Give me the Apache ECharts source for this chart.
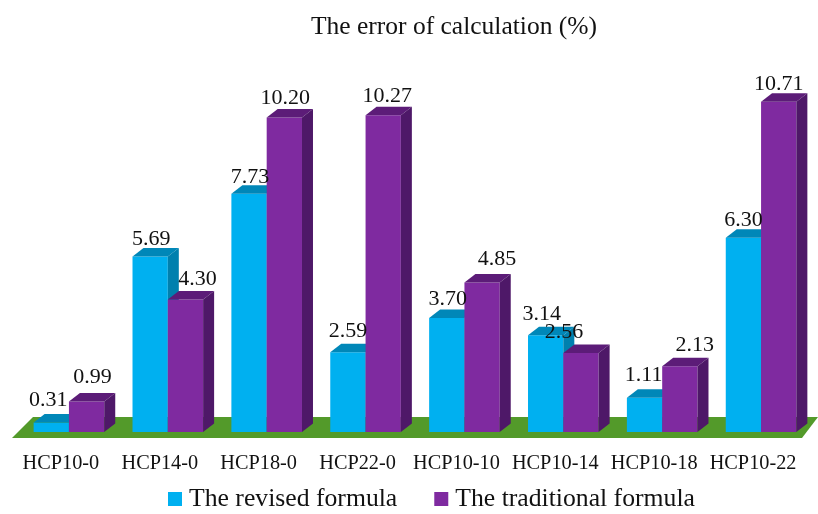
<!DOCTYPE html>
<html>
<head>
<meta charset="utf-8">
<style>
    html, body {margin: 0; padding: 0; background: #fff;}
    #chart {width: 818px; height: 514px;}
</style>
<script src="https://cdn.jsdelivr.net/npm/echarts@6/dist/echarts.min.js"></script>
</head>
<body>
<div id="chart"></div>
<script>
const categories = ['HCP10-0', 'HCP14-0', 'HCP18-0', 'HCP22-0', 'HCP10-10', 'HCP10-14', 'HCP10-18', 'HCP10-22'];
const revised = [0.31, 5.69, 7.73, 2.59, 3.70, 3.14, 1.11, 6.30];
const traditional = [0.99, 4.30, 10.20, 10.27, 4.85, 2.56, 2.13, 10.71];

// the source moves some labels off their bar so they don't collide
const revisedNudgeX = [-3, 1, 1, 0, 1, -4, -1, 0];
const revisedNudgeY = [0, 5, 6, 2, 4, 2, 0, 5];
const traditionalNudgeX = [6, 12, 1, 4, 15, -17, 15, 0];
const traditionalNudgeY = [-2, 2, 3, 3, -1, 2, 1, 5];

const font = '"Liberation Serif", "Times New Roman", serif';
const depthX = 11;
const depthY = 8.5;

function floorItem(params, api) {
    const c = params.coordSys;
    const base = c.y + c.height;
    return {
        type: 'polygon',
        silent: true,
        shape: {points: [
            [c.x - 7.5, base + 6],
            [c.x + 13.5, base - 15],
            [c.x + c.width + 7.5, base - 15],
            [c.x + c.width - 8.5, base + 6]
        ]},
        style: {fill: '#539a2a'}
    };
}

function barItem(side, front, top, right, nudgeX, nudgeY) {
    return function (params, api) {
        const p = api.coord([api.value(0), api.value(1)]);
        const zero = api.coord([api.value(0), 0]);
        const w = api.size([1, 0])[0] * 0.357;
        const x0 = side === 0 ? p[0] - w : p[0];
        const x1 = x0 + w;
        const y = p[1];
        return {
            type: 'group',
            children: [
                {type: 'rect', shape: {x: x0, y: y, width: w, height: zero[1] - y}, style: {fill: front}},
                {type: 'polygon', shape: {points: [[x0, y], [x0 + depthX, y - depthY], [x1 + depthX, y - depthY], [x1, y]]}, style: {fill: top}},
                {type: 'polygon', shape: {points: [[x1, y], [x1 + depthX, y - depthY], [x1 + depthX, zero[1] - depthY], [x1, zero[1]]]}, style: {fill: right}},
                {
                    type: 'text',
                    z2: 100,
                    style: {
                        x: x0 + w / 2 + nudgeX[params.dataIndex],
                        y: y - depthY - 3 + nudgeY[params.dataIndex],
                        text: api.value(1).toFixed(2),
                        font: '22px ' + font,
                        fill: '#111',
                        align: 'center',
                        verticalAlign: 'bottom'
                    }
                }
            ]
        };
    };
}

const chart = echarts.init(document.getElementById('chart'));
chart.setOption({
    animation: false,
    backgroundColor: '#fff',
    title: {
        text: 'The error of calculation (%)',
        left: 449,
        top: 9,
        textAlign: 'center',
        textStyle: {fontFamily: font, fontSize: 25.5, fontWeight: 'normal', color: '#111'}
    },
    legend: {
        left: 163,
        top: 481,
        icon: 'rect',
        itemWidth: 14,
        itemHeight: 14,
        itemGap: 37,
        data: ['The revised formula', 'The traditional formula'],
        textStyle: {fontFamily: font, fontSize: 25.7, color: '#111', padding: [0, 0, 0, 2]}
    },
    grid: {left: 19.5, top: 62, width: 791, height: 370},
    xAxis: {
        type: 'category',
        data: categories,
        axisLine: {show: false},
        axisTick: {show: false},
        axisLabel: {fontFamily: font, fontSize: 20.3, color: '#111', margin: 22, interval: 0, padding: [0, 16, 0, 0]}
    },
    yAxis: {type: 'value', min: 0, max: 12, show: false},
    series: [
        {
            type: 'custom',
            name: 'floor',
            renderItem: floorItem,
            data: [[0, 0]],
            encode: {x: 0, y: 1},
            silent: true
        },
        {
            type: 'custom',
            name: 'The revised formula',
            itemStyle: {color: '#00b0f0'},
            renderItem: barItem(0, '#00b0f0', '#0087b8', '#0080ae', revisedNudgeX, revisedNudgeY),
            data: revised.map((v, i) => [i, v]),
            encode: {x: 0, y: 1}
        },
        {
            type: 'custom',
            name: 'The traditional formula',
            itemStyle: {color: '#7f2aa0'},
            renderItem: barItem(1, '#7f2aa0', '#5c1c78', '#4e1868', traditionalNudgeX, traditionalNudgeY),
            data: traditional.map((v, i) => [i, v]),
            encode: {x: 0, y: 1}
        }
    ]
});
</script>
</body>
</html>
